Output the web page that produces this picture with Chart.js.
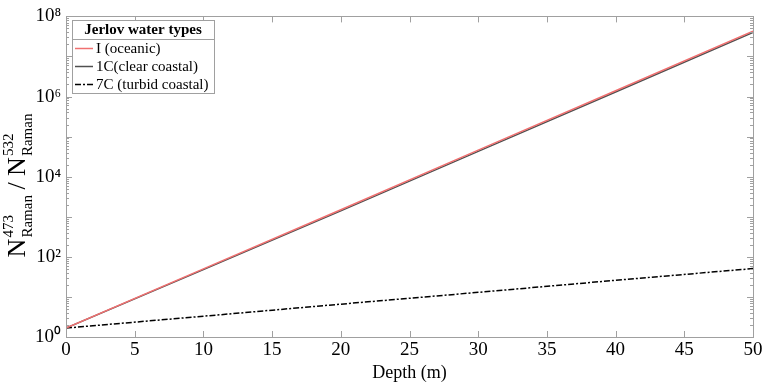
<!DOCTYPE html>
<html><head><meta charset="utf-8">
<script src="https://cdn.jsdelivr.net/npm/chart.js@4/dist/chart.umd.min.js"></script>
<style>html,body{margin:0;padding:0;background:#fff}#wrap{width:765px;height:384px}</style>
</head><body><div id="wrap"><canvas id="c" width="765" height="384"></canvas></div>
<script>
const depth = [0, 10, 20, 30, 40, 50];
const oceanic = [1.67, 50, 1500, 4.6e4, 1.4e6, 4.3e7];
const clearCoastal = [1.67, 48, 1400, 4.3e4, 1.3e6, 4.0e7];
const turbidCoastal = [1.67, 3.3, 6.6, 13, 26, 51];
const seriesNames = ['I (oceanic)', '1C(clear coastal)', '7C (turbid coastal)'];
const legendTitle = 'Jerlov water types';
const xTitle = 'Depth (m)';
const yTickExps = [0, 2, 4, 6, 8];

const SERIF = '"Liberation Serif", "Times New Roman", serif';
const sup = {'0':'⁰','1':'¹','2':'²','3':'³','4':'⁴','5':'⁵','6':'⁶','7':'⁷','8':'⁸','9':'⁹'};

const toXY = arr => depth.map((d, i) => ({x: d, y: arr[i]}));

const boxPlugin = {
  id: 'box',
  afterDraw(chart) {
    const ctx = chart.ctx, a = chart.chartArea;
    const xs = chart.scales.x, ys = chart.scales.y;
    ctx.save();
    ctx.strokeStyle = '#a0a0a0';
    ctx.lineWidth = 1;
    ctx.strokeRect(Math.round(a.left) + 0.5, Math.round(a.top) + 0.5, Math.round(a.right - a.left), Math.round(a.bottom - a.top));
    ctx.beginPath();
    for (let v = 0; v <= 50; v += 5) {
      const px = Math.round(xs.getPixelForValue(v)) + 0.5;
      ctx.moveTo(px, a.bottom); ctx.lineTo(px, a.bottom - 6);
      ctx.moveTo(px, a.top); ctx.lineTo(px, a.top + 6);
    }
    for (let k = 0; k < 8; k++) {
      for (let m = 1; m <= 9; m++) {
        const py = Math.round(ys.getPixelForValue(m * Math.pow(10, k))) + 0.5;
        const len = m === 1 ? 6 : 3;
        ctx.moveTo(a.left, py); ctx.lineTo(a.left + len, py);
        ctx.moveTo(a.right, py); ctx.lineTo(a.right - len, py);
      }
    }
    ctx.stroke();

    // legend
    const lx = 72, ly = 20, lw = 142, lh = 73;
    ctx.fillStyle = '#fff';
    ctx.fillRect(lx, ly, lw, lh);
    ctx.strokeStyle = '#a0a0a0';
    ctx.strokeRect(lx + 0.5, ly + 0.5, lw, lh);
    ctx.beginPath(); ctx.moveTo(lx, ly + 19.5); ctx.lineTo(lx + lw, ly + 19.5); ctx.stroke();
    ctx.fillStyle = '#000';
    ctx.font = 'bold 15px ' + SERIF;
    ctx.textAlign = 'center'; ctx.textBaseline = 'middle';
    ctx.fillText(legendTitle, lx + lw / 2, ly + 10);
    ctx.textAlign = 'left';
    ctx.font = '15px ' + SERIF;
    chart.data.datasets.forEach((ds, i) => {
      const yy = ly + 28.5 + i * 18;
      ctx.save();
      ctx.strokeStyle = ds.borderColor;
      ctx.lineWidth = ds.borderWidth;
      ctx.setLineDash(ds.borderDash || []);
      ctx.beginPath(); ctx.moveTo(lx + 3, yy); ctx.lineTo(lx + 21, yy); ctx.stroke();
      ctx.restore();
      ctx.fillText(ds.label, lx + 24, yy + 1);
    });

    // y title
    ctx.save();
    ctx.translate(25, 186);
    ctx.rotate(-Math.PI / 2);
    const big = '26px ' + SERIF, small = '15px ' + SERIF;
    const parts = [
      {t: 'N', f: big}, {scripts: ['473', 'Raman']},
      {t: ' / N', f: big}, {scripts: ['532', 'Raman']}
    ];
    let total = 0;
    const widths = parts.map(p => {
      if (p.t) { ctx.font = p.f; return ctx.measureText(p.t).width; }
      ctx.font = small; return Math.max(ctx.measureText(p.scripts[0]).width, ctx.measureText(p.scripts[1]).width);
    });
    widths.forEach(w => total += w);
    let x = -total / 2;
    ctx.textAlign = 'left'; ctx.textBaseline = 'alphabetic';
    parts.forEach((p, i) => {
      if (p.t) { ctx.font = p.f; ctx.fillText(p.t, x, 0); }
      else { ctx.font = small; ctx.fillText(p.scripts[0], x + 1, -12); ctx.fillText(p.scripts[1], x + 1, 7); }
      x += widths[i];
    });
    ctx.restore();
    ctx.restore();
  }
};

new Chart(document.getElementById('c'), {
  type: 'line',
  data: {
    datasets: [
      {label: seriesNames[0], data: toXY(oceanic), borderColor: '#f07070', borderWidth: 1.5, pointRadius: 0, order: 0},
      {label: seriesNames[1], data: toXY(clearCoastal), borderColor: '#505050', borderWidth: 1.5, pointRadius: 0, order: 1},
      {label: seriesNames[2], data: toXY(turbidCoastal), borderColor: '#000000', borderWidth: 1.5, borderDash: [6, 2, 2, 2], pointRadius: 0, order: 2}
    ]
  },
  options: {
    responsive: false, animation: false,
    layout: {padding: {top: 13, right: 12, left: 0, bottom: 0}},
    plugins: {legend: {display: false}, tooltip: {enabled: false}},
    scales: {
      x: {
        type: 'linear', min: 0, max: 50,
        grid: {display: false, drawTicks: false}, border: {display: false},
        ticks: {stepSize: 5, color: '#000', font: {family: SERIF, size: 19}, padding: 2, maxRotation: 0},
        title: {display: true, text: xTitle, color: '#000', font: {family: SERIF, size: 18}, padding: {top: 0, bottom: 0}},
        afterFit(s) { s.height = 47; }
      },
      y: {
        type: 'logarithmic', min: 1, max: 1e8,
        grid: {display: false, drawTicks: false}, border: {display: false},
        afterBuildTicks(s) { s.ticks = yTickExps.map(e => ({value: Math.pow(10, e)})); },
        ticks: {
          color: '#000', font: {family: SERIF, size: 19}, padding: 5, autoSkip: false,
          callback(v) { const e = Math.round(Math.log10(v)); return '10' + String(e).split('').map(c => sup[c]).join(''); }
        },
        afterFit(s) { s.width = 66; }
      }
    }
  },
  plugins: [boxPlugin]
});
</script></body></html>
